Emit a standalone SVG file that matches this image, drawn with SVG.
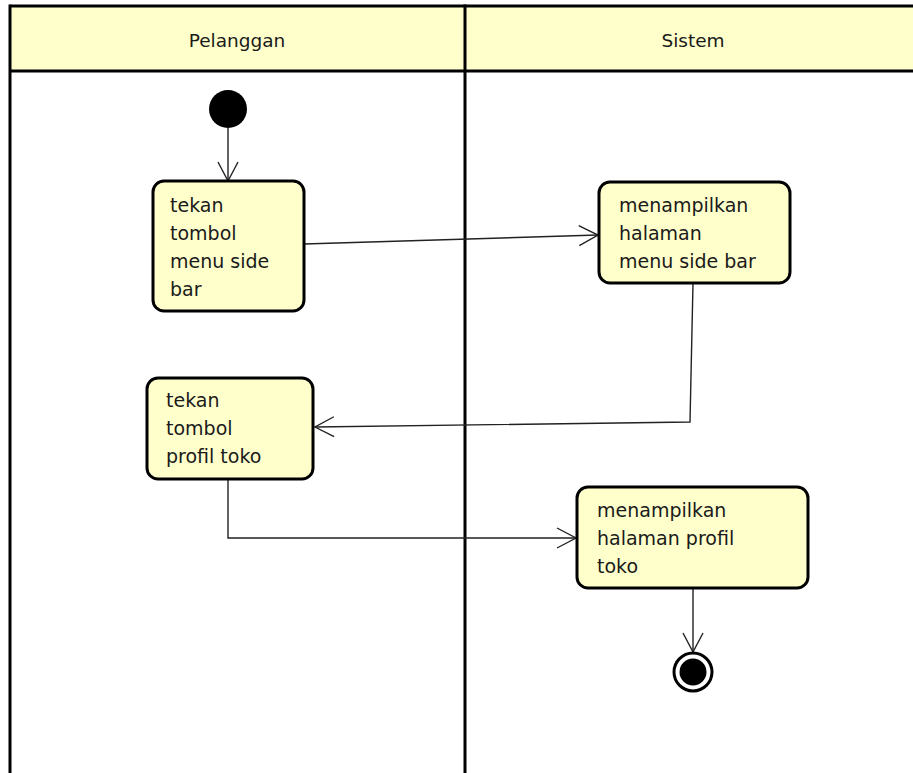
<svg xmlns="http://www.w3.org/2000/svg" width="913" height="773" viewBox="0 0 913 773">
<style>
.lane{fill:none;stroke:#000;stroke-width:3}
.hdr{fill:#FFFFCC;stroke:none}
.act{fill:#FFFFCC;stroke:#000;stroke-width:3}
.t{font-family:"DejaVu Sans",sans-serif;font-size:19px;fill:#1a1a1a}
.h{font-family:"DejaVu Sans",sans-serif;font-size:18.5px;fill:#1a1a1a;text-anchor:middle}
.c{fill:none;stroke:#222;stroke-width:1.4;marker-end:url(#arr)}
</style>
<defs>
<marker id="arr" markerUnits="userSpaceOnUse" markerWidth="24" markerHeight="24" viewBox="-21 -12 24 24" refX="0" refY="0" orient="auto">
<path d="M-19,-10 L0,0 L-19,10" fill="none" stroke="#222" stroke-width="1.4"/>
</marker>
</defs>
<rect width="913" height="773" fill="#fff"/>
<g id="swimlanes">
<rect class="hdr" x="10" y="6" width="903" height="65"/>
<line class="lane" x1="10" y1="6" x2="913" y2="6"/>
<line class="lane" x1="10" y1="71" x2="913" y2="71"/>
<line class="lane" x1="10" y1="4.5" x2="10" y2="773"/>
<line class="lane" x1="465" y1="4.5" x2="465" y2="773"/>
<text class="h" x="237" y="47">Pelanggan</text>
<text class="h" x="693" y="47">Sistem</text>
</g>
<g id="connectors">
<line class="c" x1="228" y1="128" x2="228" y2="181"/>
<line class="c" x1="304" y1="244" x2="598" y2="235"/>
<polyline class="c" points="693,283 690,422 315,427"/>
<polyline class="c" points="228,479 228,538 576,538"/>
<line class="c" x1="693" y1="588" x2="693" y2="652"/>
</g>
<g id="start">
<circle cx="228" cy="109" r="19" fill="#000"/>
</g>
<g id="a1">
<rect class="act" x="153" y="181" width="151" height="130" rx="11"/>
<text class="t" x="170" y="212">tekan</text>
<text class="t" x="170" y="240">tombol</text>
<text class="t" x="170" y="268">menu side</text>
<text class="t" x="170" y="296">bar</text>
</g>
<g id="a2">
<rect class="act" x="599" y="182" width="191" height="101" rx="11"/>
<text class="t" x="619" y="212">menampilkan</text>
<text class="t" x="619" y="240">halaman</text>
<text class="t" x="619" y="268">menu side bar</text>
</g>
<g id="a3">
<rect class="act" x="147" y="378" width="166" height="101" rx="11"/>
<text class="t" x="166" y="407">tekan</text>
<text class="t" x="166" y="435">tombol</text>
<text class="t" x="166" y="463">profil toko</text>
</g>
<g id="a4">
<rect class="act" x="577" y="487" width="231" height="101" rx="11"/>
<text class="t" x="597" y="517">menampilkan</text>
<text class="t" x="597" y="545">halaman profil</text>
<text class="t" x="597" y="573">toko</text>
</g>
<g id="end">
<circle cx="693" cy="672" r="19" fill="#fff" stroke="#000" stroke-width="3"/>
<circle cx="693" cy="672" r="13.5" fill="#000"/>
</g>
</svg>
